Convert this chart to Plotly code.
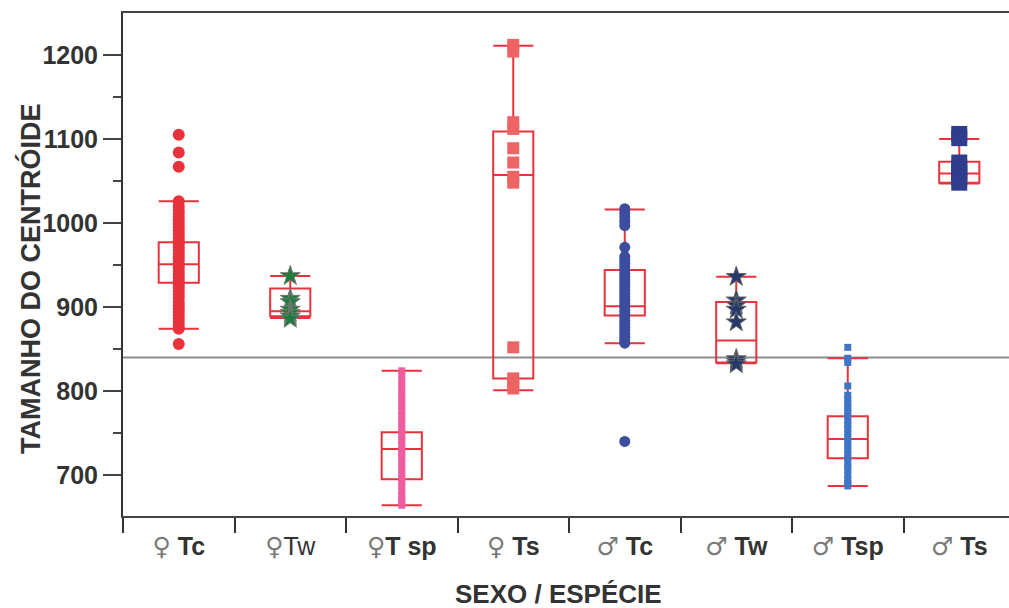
import plotly.graph_objects as go

FONT = "Liberation Sans, Arial, sans-serif"
SYM = "<span style='color:#7a7a7a;font-family:DejaVu Sans;font-size:25px'>{}</span>"

# Categories (tick labels)
categories = [
    SYM.format("♀") + " <b>Tc</b>",
    SYM.format("♀") + "Tw",
    SYM.format("♀") + "<b>T sp</b>",
    SYM.format("♀") + " <b>Ts</b>",
    SYM.format("♂") + " <b>Tc</b>",
    SYM.format("♂") + " <b>Tw</b>",
    SYM.format("♂") + " <b>Tsp</b>",
    SYM.format("♂") + " <b>Ts</b>",
]

# Box statistics
lower_fence = [874, 887, 664, 801, 857, 833, 687, 1047]
q1 = [929, 889, 695, 815, 890, 834, 720, 1048]
median = [951, 895, 731, 1057, 901, 860, 743, 1059]
q3 = [977, 922, 751, 1109, 944, 906, 770, 1073]
upper_fence = [1026, 937, 824, 1211, 1016, 936, 839, 1100]

# Individual points per group
f_tc = [1105, 1084, 1067, 1026, 1020, 1015, 1011, 1007, 1003, 999, 995, 991, 987,
        983, 979, 975, 971, 967, 963, 959, 955, 951, 947, 943, 939, 935, 931, 927,
        923, 919, 915, 911, 906, 902, 898, 894, 890, 886, 882, 878, 874, 856]
f_tw = [937, 910, 906, 897, 893, 889, 886]
f_tsp = [824, 819, 813, 806, 801, 796, 791, 786, 781, 776, 771, 766, 761, 756, 751,
         746, 741, 736, 731, 726, 721, 716, 711, 706, 701, 696, 691, 686, 681, 676,
         671, 666, 664]
f_ts = [1212, 1204, 1120, 1112, 1089, 1072, 1055, 1048, 852, 815, 808, 803]
m_tc = [1017, 1012, 1007, 1002, 997, 971, 960, 956, 952, 948, 944, 940, 936, 932,
        928, 924, 920, 916, 912, 908, 904, 900, 896, 892, 888, 884, 880, 876, 872,
        868, 864, 860, 857, 740]
m_tw = [936, 908, 902, 897, 882, 838, 835, 832]
m_tsp = [852, 839, 834, 806, 795, 790, 785, 780, 775, 770, 765, 760, 755, 750, 745,
         740, 735, 730, 725, 720, 715, 710, 706, 699, 694, 690, 687]
m_ts = [1106, 1101, 1072, 1066, 1060, 1054, 1048]

groups = [f_tc, f_tw, f_tsp, f_ts, m_tc, m_tw, m_tsp, m_ts]
reference_line = 840

x_title = "SEXO / ESPÉCIE"
y_title = "TAMANHO DO CENTRÓIDE"

marker_styles = [
    dict(color="#e8333c", size=12, symbol="circle"),
    dict(color="#1e7b3c", size=15, symbol="star", line=dict(color="#777777", width=1)),
    dict(color="#ee5d9f", size=7, symbol="square"),
    dict(color="#ee6464", size=12, symbol="square"),
    dict(color="#3c4c9e", size=11, symbol="circle"),
    dict(color="#26396c", size=15, symbol="star", line=dict(color="#666666", width=1)),
    dict(color="#3e75c6", size=7, symbol="square"),
    dict(color="#2e3d8e", size=16, symbol="square"),
]

fig = go.Figure()

fig.add_trace(go.Box(
    x=categories, q1=q1, median=median, q3=q3,
    lowerfence=lower_fence, upperfence=upper_fence,
    orientation="v", boxpoints=False, width=0.36, whiskerwidth=1,
    line=dict(color="#e8333c", width=2), fillcolor="rgba(255,255,255,0)",
    showlegend=False, hoverinfo="skip",
))

for cat, vals, ms in zip(categories, groups, marker_styles):
    fig.add_trace(go.Scatter(
        x=[cat] * len(vals), y=vals, mode="markers",
        marker=ms, showlegend=False,
    ))

fig.add_shape(type="line", xref="paper", x0=0, x1=1, yref="y",
              y0=reference_line, y1=reference_line,
              line=dict(color="#8c8c8c", width=2), layer="below")

fig.add_annotation(text="<b>" + x_title + "</b>", xref="paper", yref="paper",
                   x=0.491, y=-0.155, xanchor="center", yanchor="middle",
                   showarrow=False, font=dict(size=26, family=FONT, color="#333333"))
fig.add_annotation(text="<b>" + y_title + "</b>", xref="paper", yref="paper",
                   x=-0.105, y=0.473, xanchor="center", yanchor="middle", textangle=-90,
                   showarrow=False, font=dict(size=27, family=FONT, color="#333333"))

fig.update_layout(
    width=1009, height=608,
    margin=dict(l=123, r=0, t=13, b=92),
    paper_bgcolor="white", plot_bgcolor="white",
    font=dict(family=FONT, color="#333333"),
    xaxis=dict(
        type="category", categoryorder="array", categoryarray=categories,
        range=[-0.5, 7.446], tickson="boundaries", ticks="outside",
        ticklen=15, tickwidth=2, tickcolor="#333333", ticklabelstandoff=7,
        showline=True, linecolor="#444444", linewidth=2, mirror=True,
        showgrid=False, zeroline=False,
        tickfont=dict(size=25, family=FONT, color="#333333"),
    ),
    yaxis=dict(
        range=[651.2, 1250.0], tickvals=[700, 800, 900, 1000, 1100, 1200],
        ticks="outside", ticklen=18, tickwidth=2, tickcolor="#444444",
        minor=dict(tickvals=[750, 850, 950, 1050, 1150], ticks="outside",
                   ticklen=8, tickwidth=2, tickcolor="#444444"),
        showline=True, linecolor="#333333", linewidth=2,
        showgrid=False, zeroline=False,
        tickfont=dict(size=25, family=FONT, color="#333333", weight="bold"),
    ),
)

fig.write_html("out.html")
